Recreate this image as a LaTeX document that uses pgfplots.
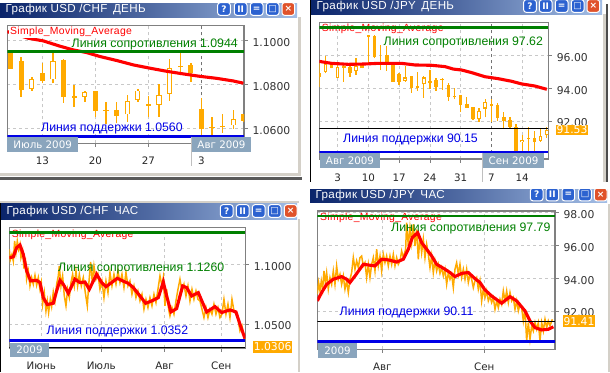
\documentclass[border=0pt]{standalone}
\usepackage{fontspec}
\setmainfont{Liberation Sans}
\newfontfamily\df{DejaVu Sans}
\newfontfamily\ls[LetterSpace=3]{Liberation Sans}
\usepackage{pgfplots}
\usepackage{pgfplotstable}
\pgfplotsset{compat=1.18}
\definecolor{cand}{HTML}{FFAA00}
\definecolor{gline}{HTML}{008000}
\definecolor{bline}{HTML}{0000E6}
\definecolor{rline}{HTML}{FF0000}
\definecolor{gridc}{HTML}{C8C8C8}
\definecolor{framec}{HTML}{808080}
\definecolor{boxc}{HTML}{8AA5BD}
\definecolor{tleft}{HTML}{0A246A}
\definecolor{tright}{HTML}{A3BEE6}
\definecolor{btn}{HTML}{2C62D0}
\definecolor{btnr}{HTML}{E0522A}
\definecolor{winb}{HTML}{D4D0C8}

% x hi lo top bot hollow
\pgfplotstableread{
x hi lo top bot h
0 1.0944 1.0870 1.0944 1.0870 0
1 1.0923 1.0744 1.0906 1.0774 0
2 1.0832 1.0771 1.0823 1.0780 1
3 1.0895 1.0805 1.0852 1.0817 0
4 1.0944 1.0805 1.0905 1.0823 1
5 1.0914 1.0717 1.0911 1.0744 0
6 1.0797 1.0698 1.0747 1.0739 0
7 1.0770 1.0721 1.0764 1.0744 1
8 1.0770 1.0653 1.0770 1.0680 0
9 1.0720 1.0620 1.0683 1.0679 0
10 1.0720 1.0623 1.0683 1.0658 0
11 1.0752 1.0630 1.0723 1.0664 1
12 1.0777 1.0721 1.0770 1.0729 1
13 1.0747 1.0650 1.0711 1.0703 0
14 1.0802 1.0653 1.0750 1.0708 1
15 1.0914 1.0726 1.0873 1.0758 1
16 1.0944 1.0841 1.0883 1.0877 0
17 1.0895 1.0812 1.0888 1.0850 0
18 1.0739 1.0570 1.0688 1.0595 0
19 1.0650 1.0570 1.0606 1.0600 0
20 1.0665 1.0580 1.0611 1.0606 0
21 1.0683 1.0598 1.0641 1.0614 1
22 1.0665 1.0630 1.0665 1.0635 0
}\tA
\pgfplotstableread{
x hi lo top bot h
-3 95.53 94.06 94.96 94.67 0
-2 95.98 94.92 95.47 95.02 1
-1 95.63 95.22 95.49 95.24 0
0 95.53 94.61 95.29 94.65 1
1 95.53 94.41 95.39 95.24 0
2 95.43 94.71 95.29 94.96 0
3 95.84 94.82 95.37 95.04 1
4 95.57 95.22 95.53 95.24 0
5 97.27 95.53 97.27 97.12 0
6 97.27 95.84 97.22 95.90 0
7 96.65 95.12 95.63 95.43 0
8 96.59 95.08 96.04 95.43 0
9 95.63 94.41 95.53 94.41 0
10 94.92 94.20 94.88 94.41 0
11 95.37 94.41 94.67 94.45 1
12 94.76 93.73 94.76 94.00 0
13 95.02 93.86 94.14 94.00 0
14 94.76 93.43 94.67 94.24 1
15 95.12 93.94 94.45 94.35 0
16 94.61 93.86 94.51 94.10 0
17 94.61 93.90 94.57 94.53 0
18 94.31 93.22 94.20 93.49 0
19 94.04 93.33 93.51 93.45 0
20 93.59 92.57 93.59 92.98 0
21 93.45 92.82 93.04 92.82 0
22 92.88 92.06 92.84 92.10 0
23 92.78 91.96 92.63 92.10 1
24 93.33 92.22 93.18 92.76 1
25 93.33 91.96 93.04 92.94 0
26 93.08 92.02 92.98 92.18 0
27 92.57 91.59 92.27 92.02 0
28 92.27 91.51 92.06 91.65 0
29 91.82 90.10 91.65 90.10 0
30 91.14 90.10 90.84 90.71 1
31 91.65 90.10 90.96 90.94 0
32 91.39 90.10 90.96 90.71 0
33 91.59 90.73 91.08 90.78 1
34 91.65 90.96 91.45 91.16 1
}\tB

\newcommand\win[5]{% x0 y0 x1 y1 title
  \shade[left color=tleft,right color=tright,middle color=tleft!55!tright] (#1,#2) rectangle (#3,#4);
  \node[anchor=west,text=white,font=\ls\fontsize{11.6}{14}\selectfont,inner sep=0pt] at (#1+5.5,{(#2+#4)/2}) {#5};
}
\newcommand\btns[5]{% five centres then y given by \by
  \btnone{#1}{btn}{?}\btnone{#2}{btn}{II}\btnone{#3}{btn}{=}\btnone{#4}{btn}{□}\btnone{#5}{btnr}{×}
}
\newcommand\btnone[3]{%
  \draw[white,line width=1pt,fill=#2,rounded corners=2.5pt] (#1-6.3,\by-6.3) rectangle (#1+6.3,\by+6.3);
  \node[text=white,font=\df\bfseries\fontsize{9}{9}\selectfont,inner sep=0pt] at (#1,\by) {#3};
}
\newcommand\mon[5]{% x0 y0 x1 y1 text
  \fill[boxc] (#1,#2) rectangle (#3,#4);
  \node[text=white,font=\df\fontsize{10.3}{12}\selectfont,inner sep=0pt] at ({(#1+#3)/2},{(#2+#4)/2}) {#5};
}
\tikzset{lab/.style={font=\fontsize{12.3}{14}\selectfont},
  sma/.style={anchor=west,text=rline,inner sep=1pt,font=\ls\fontsize{10.4}{12}\selectfont}}
\pgfplotsset{
  chart/.style={
    scale only axis, anchor=south west,
    axis line style={framec,line width=1.1pt},
    grid=major, grid style={gridc,dashed,line width=0.7pt},
    tick align=outside, major tick length=3.5pt,
    tick style={framec,line width=0.7pt},
    ytick pos=right, xtick pos=bottom,
    yticklabel pos=right,
    yticklabel style={font=\df\fontsize{10.8}{12}\selectfont,text=black!80,xshift=1.5pt,yshift=-2pt},
    xticklabel style={font=\df\fontsize{10.3}{12}\selectfont,text=black!85,yshift=-#1},
  },
  chart/.default=7pt,
  wick/.style={draw=none,mark=none,forget plot,unbounded coords=discard,
    error bars/.cd,y dir=plus,y explicit,error mark=none,
    error bar style={cand,line width=#1}},
  hl/.style={line width=2.6pt},
  ma/.style={rline,line width=3.1pt},
  hr/.style={cand,line width=1.5pt},
}
\newcommand\candles[4]{% table, body width, eps, wick
  \addplot[wick=#4] table[x=x,y=lo,y error plus expr=\thisrow{hi}-\thisrow{lo},y error minus expr=0]{#1};
  \addplot[wick=#2] table[x=x,y=bot,y error plus expr=\thisrow{top}-\thisrow{bot},y error minus expr=0]{#1};
  \addplot[draw=none,mark=none,forget plot,unbounded coords=discard,
    error bars/.cd,y dir=plus,y explicit,error mark=none,
    error bar style={white,line width=#2-2pt}]
    table[x=x,y expr={\thisrow{h}>0 ? \thisrow{bot}+#3 : nan},
          y error plus expr=\thisrow{top}-\thisrow{bot}-2*#3,y error minus expr=0]{#1};
}

\begin{document}
\begin{tikzpicture}[x=1pt,y=-1pt]
\useasboundingbox (0,0) rectangle (610,372);
\fill[white] (0,0) rectangle (610,372);

% ---------- window chrome
\fill[winb] (298,17) rectangle (301,176);
\fill[winb] (0,173) rectangle (301,176);
\fill[black!65] (0,177) rectangle (302,180);
\draw[black,line width=1pt] (310,0) -- (310,182);
\fill[winb] (603,14) rectangle (606,182);
\fill[black!70] (606,4) rectangle (608,182);
\fill[winb] (0,201) rectangle (299,203);
\draw[black,line width=1pt] (0.3,203) -- (0.3,372);
\fill[winb] (298,219) rectangle (300,372);
\fill[winb] (608,204) rectangle (610,372);

\win{0}{3}{297}{17}{График USD /CHF\, ДЕНЬ}
\win{311}{0}{602}{14}{График USD /JPY\, ДЕНЬ}
\win{1}{203}{297}{219}{График USD /CHF\, ЧАС}
\win{310}{189}{607}{202}{График USD /JPY\, ЧАС}
\def\by{9}\btns{224}{240.7}{256.7}{272.7}{288.3}
\def\by{6}\btns{530}{545.7}{561.7}{577.7}{593.3}
\def\by{211}\btns{226.7}{242.7}{258.7}{274.7}{290.7}
\begin{scope}
\clip (310,189) rectangle (607,203);
\def\by{194.5}\btns{536.7}{552.3}{568.3}{585}{600.7}
\end{scope}

% ---------- USD/CHF day
\begin{axis}[chart=7pt,at={(7.3pt,-143.3pt)},width=236.7pt,height=117.6pt,
  xmin=-0.314,xmax=22.01,ymin=1.0532,ymax=1.1066,
  xtick={3,8,13,18},xticklabels={13,20,27,3},
  ytick={1.06,1.08,1.10},yticklabels={1.0600,1.0800,1.1000}]
\addplot[gray!90!black,dashed,line width=0.8pt,forget plot] coordinates {(18,1.0532)(18,1.1066)};
\candles{\tA}{5.2pt}{0.00025}{1.5pt}
\addplot[ma] coordinates {(-0.31,1.1039)(1.67,1.1009)(3.08,1.0997)(4.65,1.0973)(5.91,1.0956)(7.17,1.0944)(8.43,1.0926)(10,1.0908)(11.57,1.0888)(13.14,1.0873)(14.72,1.0859)(16.29,1.0847)(17.86,1.0836)(19.43,1.0827)(21,1.0815)(21.95,1.0805)};
\node[sma,fill=white] at (axis cs:-0.15,1.1036) {Simple\_Moving\_Average};
\addplot[gline,hl] coordinates {(-0.314,1.0948)(22.01,1.0948)};
\addplot[bline,hl] coordinates {(-0.314,1.0562)(22.01,1.0562)};
\end{axis}
\node[text=gline,lab,anchor=west,inner sep=0pt] at (71.5,44) {Линия сопротивления 1.0944};
\node[text=bline,lab,anchor=west,inner sep=0pt] at (41,128) {Линия поддержки 1.0560};
\mon{7.3}{136.7}{78}{152}{Июль 2009}
\mon{192}{136.7}{251}{152}{Авг 2009}
\draw[gray!50,line width=1pt] (191.7,136.7) -- (191.7,166);

% ---------- USD/JPY day
\begin{axis}[chart=8pt,at={(319.3pt,-159pt)},width=229pt,height=136.3pt,
  xmin=-2.98,xmax=34.25,ymin=89.67,ymax=98.02,
  xtick={0,5,10,15,20,25,30},xticklabels={3,10,17,24,31,7,14},
  ytick={92,94,96},yticklabels={92.00,94.00,96.00}]
\addplot[gray!90!black,dashed,line width=0.8pt,forget plot] coordinates {(25,89.67)(25,98.02)};
\candles{\tB}{3.6pt}{0.07}{1.3pt}
\addplot[ma] coordinates {(-3,95.65)(-1,95.53)(1.73,95.47)(4.44,95.49)(6.61,95.53)(10.4,95.53)(12.57,95.43)(15.28,95.41)(17.45,95.33)(18.8,95.18)(20.17,95.12)(21.8,94.96)(23.96,94.71)(26.12,94.59)(28.3,94.43)(29.9,94.27)(32.09,94.14)(34,93.94)};
\node[sma] at (axis cs:-2.75,97.65) {Simple\_Moving\_Average};
\addplot[gline,hl] coordinates {(-2.98,97.71)(34.25,97.71)};
\addplot[black,line width=0.9pt] coordinates {(-2.98,91.53)(34.25,91.53)};
\addplot[bline,hl] coordinates {(-2.98,90.1)(34.25,90.1)};
\end{axis}
\node[text=gline,lab,anchor=west,inner sep=0pt] at (383.5,42) {Линия сопротивления 97.62};
\node[text=bline,lab,anchor=west,inner sep=0pt] at (343,139.5) {Линия поддержки 90.15};
\mon{320}{152.7}{380}{168}{Авг 2009}
\mon{483}{152.7}{544}{168}{Сен 2009}
\draw[gray!50,line width=1pt] (482.7,152.7) -- (482.7,182);
\fill[cand] (556,124.5) rectangle (588,134.5);
\node[text=white,font=\df\fontsize{10.8}{12}\selectfont,inner sep=0pt] at (572,129.7) {91.53};

% ---------- USD/CHF hour
\begin{axis}[chart=7pt,at={(9.3pt,-348pt)},width=236pt,height=120.7pt,
  xmin=28,xmax=736,ymin=1.0299,ymax=1.1310,
  xtick={124,304,494,664},xticklabels={Июнь,Июль,Авг,Сен},
  ytick={1.05,1.10},yticklabels={1.0500,1.1000}]
\addplot[hr] coordinates {(28,1.1126)(31,1.1037)(36,1.1084)(40,1.1028)(44,1.1196)(48,1.1098)(52,1.1196)(56,1.1126)(60,1.1168)(63,1.1056)(68,1.1112)(72,1.0964)(76,1.1056)(80,1.0875)(85,1.0945)(90,1.0819)(95,1.0889)(100,1.0833)(105,1.0908)(110,1.0825)(115,1.0889)(120,1.0791)(124,1.0847)(128,1.0666)(133,1.0763)(138,1.0610)(142,1.0693)(146,1.0596)(151,1.0707)(155,1.0646)(160,1.0769)(165,1.0693)(170,1.0833)(175,1.0903)(178,1.0986)(183,1.0819)(188,1.0903)(193,1.0735)(198,1.0652)(203,1.0791)(208,1.0721)(213,1.0847)(218,1.0917)(223,1.0819)(228,1.0945)(233,1.0819)(238,1.0917)(244,1.0819)(250,1.0889)(256,1.0763)(262,1.0652)(266,1.0819)(272,1.1020)(277,1.0847)(282,1.0986)(288,1.0875)(294,1.0917)(300,1.0791)(306,1.0861)(312,1.0721)(318,1.0861)(324,1.0763)(330,1.0931)(336,1.0819)(342,1.0917)(348,1.0833)(354,1.0945)(360,1.0847)(366,1.0917)(372,1.0805)(378,1.0931)(384,1.0819)(390,1.0861)(396,1.0749)(402,1.0819)(408,1.0721)(414,1.0777)(420,1.0693)(426,1.0749)(432,1.0624)(438,1.0707)(444,1.0638)(450,1.0721)(456,1.0652)(462,1.0749)(468,1.0679)(474,1.0791)(480,1.0903)(486,1.0819)(490,1.0889)(495,1.0652)(500,1.0791)(506,1.0624)(510,1.0568)(516,1.0638)(522,1.0582)(528,1.0693)(534,1.0791)(540,1.0875)(546,1.0777)(552,1.0833)(558,1.0735)(564,1.0819)(570,1.0693)(576,1.0791)(582,1.0707)(588,1.0777)(594,1.0707)(600,1.0693)(606,1.0624)(612,1.0554)(618,1.0638)(624,1.0554)(630,1.0624)(636,1.0582)(642,1.0666)(648,1.0582)(654,1.0638)(660,1.0554)(666,1.0582)(672,1.0707)(678,1.0582)(684,1.0666)(690,1.0554)(696,1.0707)(702,1.0610)(708,1.0582)(714,1.0540)(720,1.0442)(726,1.0484)(732,1.0387)(736,1.0373)};
\addplot[ma] coordinates {(28,1.1056)(40,1.1062)(50,1.1140)(60,1.1162)(70,1.1084)(80,1.0945)(92,1.0861)(110,1.0866)(120,1.0847)(130,1.0721)(142,1.0663)(160,1.0674)(170,1.0777)(180,1.0866)(190,1.0833)(205,1.0758)(225,1.0875)(240,1.0847)(255,1.0852)(268,1.0791)(290,1.0917)(305,1.0847)(318,1.0813)(335,1.0847)(352,1.0883)(368,1.0861)(385,1.0841)(400,1.0805)(420,1.0735)(437,1.0674)(455,1.0693)(475,1.0721)(490,1.0852)(500,1.0735)(513,1.0601)(530,1.0629)(548,1.0819)(560,1.0805)(575,1.0735)(595,1.0763)(620,1.0601)(645,1.0646)(665,1.0596)(690,1.0618)(708,1.0601)(720,1.0498)(735,1.0378)};
\node[sma] at (axis cs:32,1.1250) {Simple\_Moving\_Average};
\addplot[gline,hl] coordinates {(28,1.1265)(736,1.1265)};
\addplot[black,line width=1pt] coordinates {(28,1.0305)(736,1.0305)};
\addplot[bline,hl] coordinates {(28,1.0361)(736,1.0361)};
\end{axis}
\node[text=gline,lab,anchor=west,inner sep=0pt] at (58,268) {Линия сопротивления 1.1260};
\node[text=bline,lab,anchor=west,inner sep=0pt] at (46.5,331.5) {Линия поддержки 1.0352};
\mon{10}{342.7}{49}{357.3}{2009}
\fill[cand] (253.3,341) rectangle (292,352.7);
\node[text=white,font=\df\fontsize{10.8}{12}\selectfont,inner sep=0pt] at (272.7,347) {1.0306};

% ---------- USD/JPY hour
\begin{axis}[chart=7pt,at={(317.3pt,-349.3pt)},width=237.7pt,height=138.3pt,
  xmin=37,xmax=750,ymin=89.66,ymax=98.09,
  xtick={232,538},xticklabels={Авг,Сен},
  ytick={92,94,96,98},yticklabels={92.00,94.00,96.00,98.00}]
\addplot[hr] coordinates {(37,93.01)(41,93.73)(45,93.22)(49,93.83)(53,93.32)(57,94.44)(61,93.73)(65,94.33)(70,93.32)(75,94.03)(80,93.62)(85,94.44)(90,93.62)(95,94.74)(100,93.93)(105,94.23)(110,93.62)(115,94.13)(120,93.32)(125,93.83)(130,93.12)(135,93.93)(140,94.33)(145,95.25)(150,94.54)(155,95.05)(160,94.64)(165,95.25)(170,95.35)(175,94.74)(180,94.94)(185,94.03)(190,94.84)(195,94.03)(200,94.84)(205,95.25)(210,94.44)(215,95.76)(220,94.74)(225,95.35)(230,94.44)(235,95.45)(240,94.94)(245,95.35)(250,94.74)(255,95.35)(260,94.84)(265,95.45)(270,94.74)(275,95.25)(280,94.84)(285,95.05)(290,95.65)(295,95.25)(302,95.76)(305,97.38)(310,95.96)(315,97.08)(320,96.16)(325,97.28)(330,95.96)(335,96.97)(340,95.15)(345,96.57)(350,95.55)(355,96.37)(360,95.25)(365,96.06)(370,95.45)(375,94.64)(380,95.35)(385,94.33)(390,95.05)(395,94.44)(400,94.84)(405,94.29)(410,94.64)(415,94.13)(420,94.54)(425,93.62)(430,94.33)(435,93.93)(440,94.23)(445,93.42)(450,94.54)(455,94.94)(460,94.23)(465,94.84)(470,94.03)(475,94.54)(480,93.93)(485,94.54)(490,93.73)(495,94.23)(500,93.93)(505,93.42)(510,93.83)(515,94.03)(520,93.32)(525,93.83)(530,92.61)(535,93.32)(540,92.81)(545,93.22)(550,92.61)(555,92.91)(560,92.51)(565,92.81)(570,92.10)(575,92.61)(580,92.20)(585,92.71)(590,92.41)(595,93.22)(600,92.61)(605,93.22)(610,92.51)(615,93.12)(620,92.61)(625,92.81)(630,92.10)(635,92.61)(640,92.00)(645,92.41)(650,92.20)(655,91.39)(660,92.10)(665,90.17)(670,91.29)(675,90.27)(680,91.09)(685,90.78)(690,91.29)(695,90.88)(700,91.29)(705,90.17)(710,91.29)(715,90.78)(720,91.49)(725,90.98)(730,91.39)(735,91.09)(742,91.49)};
\addplot[ma] coordinates {(37,92.61)(50,93.12)(65,93.62)(85,93.93)(110,94.09)(125,93.93)(135,93.73)(150,94.13)(175,94.84)(190,94.80)(210,94.74)(230,95.15)(250,95.11)(275,94.98)(295,95.15)(310,95.76)(322,96.47)(338,96.77)(350,96.16)(365,95.76)(380,95.35)(395,94.84)(420,94.54)(435,94.34)(450,94.09)(470,94.29)(490,94.34)(510,93.97)(525,93.73)(540,93.28)(560,92.91)(590,92.47)(615,92.87)(635,92.61)(660,92.00)(675,91.39)(690,90.98)(710,90.84)(730,90.88)(745,91.03)};
\node[sma] at (axis cs:42,97.70) {Simple\_Moving\_Average};
\addplot[gline,hl] coordinates {(37,97.79)(750,97.79)};
\addplot[black,line width=0.9pt] coordinates {(37,91.37)(750,91.37)};
\addplot[bline,hl] coordinates {(37,90.13)(750,90.13)};
\end{axis}
\node[text=gline,lab,anchor=west,inner sep=0pt] at (391,228) {Линия сопротивления 97.79};
\node[text=bline,lab,anchor=west,inner sep=0pt] at (339.5,312) {Линия поддержки 90.11};
\mon{318}{342.7}{357}{358}{2009}
\fill[cand] (563.3,315.3) rectangle (595,326.7);
\node[text=white,font=\df\fontsize{10.8}{12}\selectfont,inner sep=0pt] at (579,321.3) {91.41};
\end{tikzpicture}
\end{document}
